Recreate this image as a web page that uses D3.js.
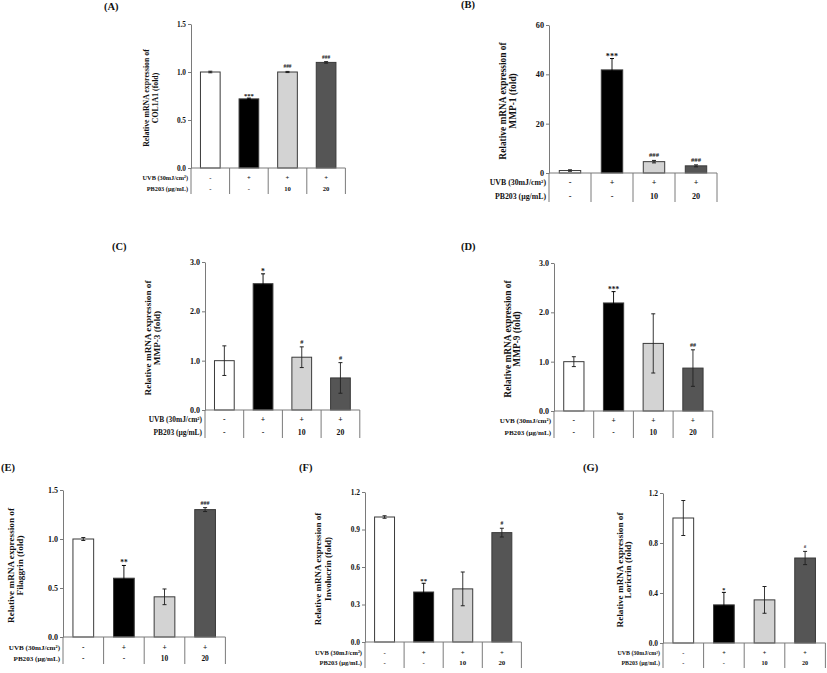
<!DOCTYPE html>
<html>
<head>
<meta charset="utf-8">
<script src="https://cdn.jsdelivr.net/npm/d3@7"></script>
<style>
  html, body { margin: 0; padding: 0; background: #ffffff; }
  svg { display: block; }
  text { font-family: "Liberation Serif", "Times New Roman", serif; font-weight: bold; fill: #111; }
</style>
</head>
<body>
<svg id="chart" width="827" height="673"></svg>
<script>
// ---------------- DATA ----------------
const groups = ["Control", "UVB", "UVB+PB203 10", "UVB+PB203 20"];
const uvbRow = ["-", "+", "+", "+"];
const pbRow = ["-", "-", "10", "20"];
const rowLabels = ["UVB (30mJ/cm\u00B2)", "PB203 (\u00B5g/mL)"];
const panelLetters = ["(A)", "(B)", "(C)", "(D)", "(E)", "(F)", "(G)"];
const genes = ["COL1A1", "MMP-1", "MMP-3", "MMP-9", "Filaggrin", "Involucrin", "Loricrin"];
const titleLine1 = "Relative mRNA expression of";

const col1a1Values = [1.0, 0.72, 1.0, 1.1];
const col1a1Errors = [0.008, 0.008, 0.006, 0.008];
const col1a1Marks = ["", "***", "###", "###"];
const col1a1Ticks = [0.0, 0.5, 1.0, 1.5];

const mmp1Values = [1.0, 41.8, 4.6, 2.9];
const mmp1Errors = [0.3, 4.6, 0.5, 0.4];
const mmp1Marks = ["", "***", "###", "###"];
const mmp1Ticks = [0, 20, 40, 60];

const mmp3Values = [1.0, 2.56, 1.07, 0.65];
const mmp3Errors = [0.3, 0.2, 0.21, 0.31];
const mmp3Marks = ["", "*", "#", "#"];
const mmp3Ticks = [0.0, 1.0, 2.0, 3.0];

const mmp9Values = [1.0, 2.19, 1.37, 0.87];
const mmp9Errors = [0.1, 0.23, 0.6, 0.37];
const mmp9Marks = ["", "***", "", "##"];
const mmp9Ticks = [0.0, 1.0, 2.0, 3.0];

const filaggrinValues = [1.0, 0.6, 0.41, 1.3];
const filaggrinErrors = [0.015, 0.13, 0.08, 0.02];
const filaggrinMarks = ["", "**", "", "###"];
const filaggrinTicks = [0.0, 0.5, 1.0, 1.5];

const involucrinValues = [1.0, 0.40, 0.425, 0.875];
const involucrinErrors = [0.01, 0.07, 0.135, 0.035];
const involucrinMarks = ["", "**", "", "#"];
const involucrinTicks = [0.0, 0.3, 0.6, 0.9, 1.2];

const loricrinValues = [1.0, 0.305, 0.345, 0.68];
const loricrinErrors = [0.14, 0.1, 0.107, 0.053];
const loricrinMarks = ["", "*", "", "#"];
const loricrinTicks = [0.0, 0.4, 0.8, 1.2];

// ---------------- STYLE / LAYOUT ----------------
const barFills = ["#ffffff", "#000000", "#d3d3d3", "#555555"];
const barStroke = "#3a3a3a";
const lineColor = "#7a7a7a";

const panels = [
  {values: col1a1Values, errors: col1a1Errors, marks: col1a1Marks, ticks: col1a1Ticks, fmt: ".1f",
   ax: 191, top: 24, bottom: 168, gw: 38.6, row1: 180, row2: 191, tBottom: 194,
   t1: -45, t2: -36, titleFs: 7.8, tickFs: 7.3, rowFs: 6.3, letter: [104, 10]},
  {values: mmp1Values, errors: mmp1Errors, marks: mmp1Marks, ticks: mmp1Ticks, fmt: "d",
   ax: 549, top: 25, bottom: 173, gw: 42, row1: 185, row2: 199, tBottom: 202,
   t1: -46, t2: -36, titleFs: 9.4, tickFs: 8.2, rowFs: 7.8, letter: [461, 8]},
  {values: mmp3Values, errors: mmp3Errors, marks: mmp3Marks, ticks: mmp3Ticks, fmt: ".1f",
   ax: 205, top: 262, bottom: 410, gw: 38.7, row1: 422, row2: 435, tBottom: 438,
   t1: -57, t2: -48, titleFs: 9.2, tickFs: 8, rowFs: 7.4, letter: [112, 250]},
  {values: mmp9Values, errors: mmp9Errors, marks: mmp9Marks, ticks: mmp9Ticks, fmt: ".1f",
   ax: 554, top: 263, bottom: 411, gw: 39.7, row1: 423, row2: 435, tBottom: 438,
   t1: -46, t2: -37, titleFs: 9.4, tickFs: 8, rowFs: 7.1, letter: [461, 250]},
  {values: filaggrinValues, errors: filaggrinErrors, marks: filaggrinMarks, ticks: filaggrinTicks, fmt: ".1f",
   ax: 63, top: 490, bottom: 637, gw: 40.6, row1: 650, row2: 661, tBottom: 664,
   t1: -52, t2: -43, titleFs: 9.2, tickFs: 8, rowFs: 7.1, letter: [1, 471]},
  {values: involucrinValues, errors: involucrinErrors, marks: involucrinMarks, ticks: involucrinTicks, fmt: ".1f",
   ax: 365, top: 492, bottom: 642, gw: 39.1, row1: 655, row2: 665, tBottom: 668,
   t1: -47, t2: -37, titleFs: 9, tickFs: 7.4, rowFs: 6.5, letter: [299, 471]},
  {values: loricrinValues, errors: loricrinErrors, marks: loricrinMarks, ticks: loricrinTicks, fmt: ".1f",
   ax: 663, top: 493, bottom: 643, gw: 40.6, row1: 655, row2: 665, tBottom: 668,
   t1: -43, t2: -35, titleFs: 9.2, tickFs: 7.4, rowFs: 5.9, letter: [583, 471]}
];

const svg = d3.select("#chart");

panels.forEach((p, pi) => {
  const g = svg.append("g");
  const x = d3.scaleBand().domain(groups)
    .range([p.ax, p.ax + groups.length * p.gw])
    .paddingInner(0.49).paddingOuter(0.245);
  const y = d3.scaleLinear().domain([0, d3.max(p.ticks)]).range([p.bottom, p.top]);

  // y axis
  const yAxis = d3.axisLeft(y).tickValues(p.ticks).tickSizeInner(3).tickSizeOuter(0)
    .tickFormat(d3.format(p.fmt));
  const ag = g.append("g").attr("transform", `translate(${p.ax},0)`).call(yAxis);
  ag.select(".domain").attr("stroke", lineColor);
  ag.selectAll(".tick line").attr("stroke", lineColor);
  ag.selectAll(".tick text").attr("font-size", p.tickFs).attr("font-family", "Liberation Serif")
    .attr("font-weight", "bold").attr("fill", "#111").attr("x", -5);

  // bars
  g.selectAll("rect.bar").data(p.values).join("rect")
    .attr("class", "bar")
    .attr("x", (d, i) => x(groups[i]))
    .attr("width", x.bandwidth())
    .attr("y", d => y(d))
    .attr("height", d => y(0) - y(d))
    .attr("fill", (d, i) => barFills[i])
    .attr("stroke", barStroke).attr("stroke-width", 1);

  // error bars
  const cap = 2;
  p.values.forEach((v, i) => {
    const cx = x(groups[i]) + x.bandwidth() / 2;
    const hi = y(v + p.errors[i]);
    const lo = y(Math.max(0, v - p.errors[i]));
    const ec = i === 1 ? "#000" : "#222";
    g.append("line").attr("x1", cx).attr("x2", cx).attr("y1", hi).attr("y2", lo)
      .attr("stroke", ec).attr("stroke-width", 0.9);
    g.append("line").attr("x1", cx - cap).attr("x2", cx + cap).attr("y1", hi).attr("y2", hi)
      .attr("stroke", ec).attr("stroke-width", 1);
    g.append("line").attr("x1", cx - cap).attr("x2", cx + cap).attr("y1", lo).attr("y2", lo)
      .attr("stroke", ec).attr("stroke-width", 1);
    if (p.marks[i]) {
      const isStar = p.marks[i].startsWith("*");
      g.append("text").attr("x", cx).attr("y", hi - (isStar ? 0 : 3))
        .attr("text-anchor", "middle")
        .attr("font-size", isStar ? p.rowFs * 1.05 : p.rowFs * 0.85)
        .text(p.marks[i]);
    }
  });

  // x axis line and table lines
  const xEnd = p.ax + groups.length * p.gw;
  g.append("line").attr("x1", p.ax).attr("x2", xEnd).attr("y1", p.bottom).attr("y2", p.bottom)
    .attr("stroke", lineColor).attr("stroke-width", 1);
  for (let k = 0; k <= groups.length; k++) {
    const lx = p.ax + k * p.gw;
    g.append("line").attr("x1", lx).attr("x2", lx).attr("y1", p.bottom).attr("y2", p.tBottom)
      .attr("stroke", lineColor).attr("stroke-width", 1);
  }

  // table text
  [uvbRow, pbRow].forEach((row, ri) => {
    const ry = ri === 0 ? p.row1 : p.row2;
    g.append("text").attr("x", p.ax - 3).attr("y", ry).attr("text-anchor", "end")
      .attr("font-size", p.rowFs).text(rowLabels[ri]);
    row.forEach((c, i) => {
      g.append("text").attr("x", x(groups[i]) + x.bandwidth() / 2).attr("y", ry)
        .attr("text-anchor", "middle").attr("font-size", p.rowFs * 1.05).text(c);
    });
  });

  // y title (two lines, rotated)
  const cy = (p.top + p.bottom) / 2 + 2;
  [[titleLine1, p.t1], [genes[pi] + " (fold)", p.t2]].forEach(([t, off]) => {
    g.append("text")
      .attr("transform", `translate(${p.ax + off},${cy}) rotate(-90)`)
      .attr("text-anchor", "middle").attr("dominant-baseline", "central")
      .attr("font-size", p.titleFs).text(t);
  });

  // panel letter
  g.append("text").attr("x", p.letter[0]).attr("y", p.letter[1])
    .attr("font-size", 10.5).text(panelLetters[pi]);
});
</script>
</body>
</html>
